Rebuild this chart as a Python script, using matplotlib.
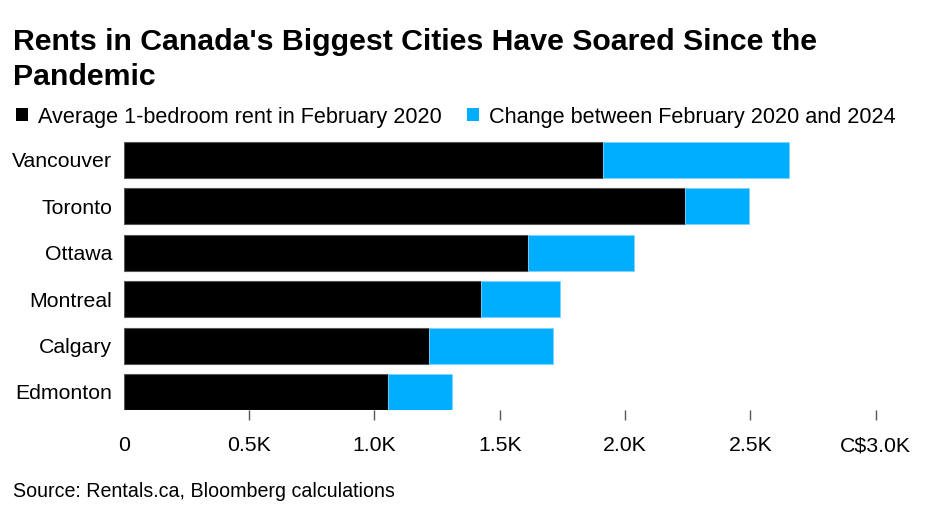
import matplotlib
matplotlib.use("Agg")
import matplotlib.pyplot as plt
from matplotlib.patches import Patch

cities = ["Vancouver", "Toronto", "Ottawa", "Montreal", "Calgary", "Edmonton"]
rent_2020 = [1913, 2239, 1612, 1424, 1217, 1055]
change = [740, 255, 424, 318, 494, 256]
xticks = [0, 500, 1000, 1500, 2000, 2500, 3000]
xticklabels = ["0", "0.5K", "1.0K", "1.5K", "2.0K", "2.5K", "C$3.0K"]
legend_labels = ["Average 1-bedroom rent in February 2020", "Change between February 2020 and 2024"]

BLACK = "#000000"
BLUE = "#00aeff"

W, H = 947, 517
plt.rcParams['font.family'] = ["Liberation Sans", "DejaVu Sans"]
fig = plt.figure(figsize=(W/100, H/100), dpi=100)
ax = fig.add_axes([123.7/W, 1-410.1/H, 752/W, 273.6/H])

ypos = list(range(len(cities)))
ax.barh(ypos, rent_2020, height=0.775, color=BLACK, edgecolor="#555555", linewidth=0.8)
ax.barh(ypos, change, left=rent_2020, height=0.775, color=BLUE, edgecolor="#7fd3ff", linewidth=0.6)
ax.set_ylim(5.39, -0.5)
ax.set_xlim(0, 3000)
ax.set_yticks(ypos)
ax.set_yticklabels(cities, fontsize=15.3)
ax.set_xticks(xticks)
ax.set_xticklabels(xticklabels, fontsize=15.3)
for s in ax.spines.values():
    s.set_visible(False)
ax.tick_params(axis='y', length=0, pad=8.5)
ax.tick_params(axis='x', length=7, width=1, color="#555555", pad=12, direction='out')
ax.xaxis.get_major_ticks()[0].tick1line.set_visible(False)

fig.text(13/W, 1-50/H, "Rents in Canada's Biggest Cities Have Soared Since the",
         fontsize=21.8, fontweight='bold', va='baseline', ha='left')
fig.text(13/W, 1-85/H, "Pandemic",
         fontsize=21.8, fontweight='bold', va='baseline', ha='left')
fig.text(13/W, 1-491.5/H, "Source: Rentals.ca, Bloomberg calculations", fontsize=14.1, va='center', ha='left')

h1 = Patch(facecolor=BLACK)
h2 = Patch(facecolor=BLUE)
fs = 15.6
fpx = fs * 100 / 72
fig.legend([h1, h2], legend_labels,
           loc='center left', bbox_to_anchor=(16/W, 1-117/H), ncol=2, frameon=False,
           fontsize=fs, handlelength=12/fpx, handleheight=12/fpx, handletextpad=10/fpx,
           columnspacing=25/fpx, borderpad=0, borderaxespad=0)

fig.savefig("out.png", dpi=100)
